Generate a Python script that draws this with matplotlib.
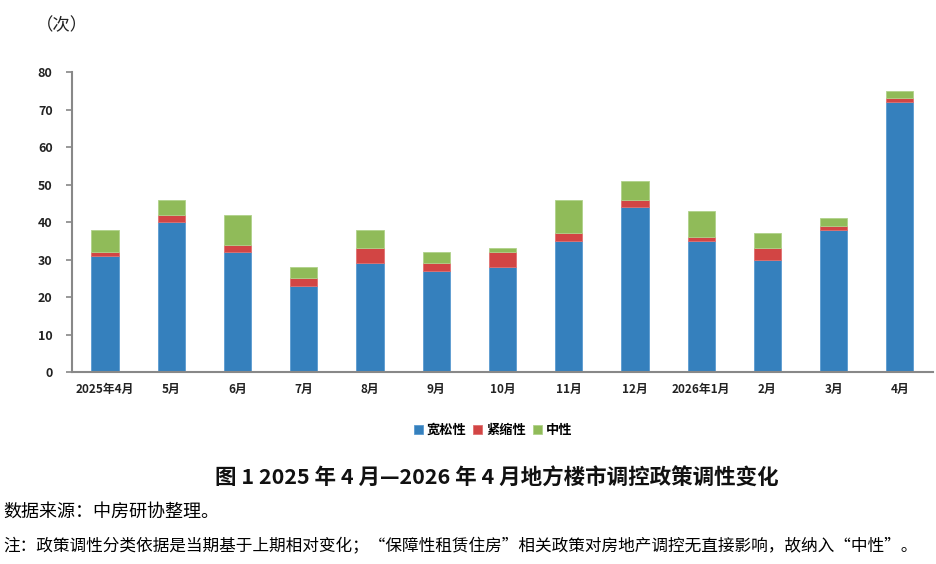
import matplotlib.pyplot as plt
import numpy as np

plt.rcParams['font.family'] = ['Noto Sans CJK SC', 'DejaVu Sans']

# ===== Daten =====
months = ['2025年4月', '5月', '6月', '7月', '8月', '9月', '10月', '11月', '12月',
          '2026年1月', '2月', '3月', '4月']
loose = [31, 40, 32, 23, 29, 27, 28, 35, 44, 35, 30, 38, 72]     # 宽松性
tight = [1, 2, 2, 2, 4, 2, 4, 2, 2, 1, 3, 1, 1]                 # 紧缩性
neutral = [6, 4, 8, 3, 5, 3, 1, 9, 5, 7, 4, 2, 2]               # 中性
yticks = [0, 10, 20, 30, 40, 50, 60, 70, 80]

c_blue, c_red, c_green = '#3580BD', '#D24544', '#90BB59'

fig = plt.figure(figsize=(9.37, 5.64), dpi=100)
ax = fig.add_axes([0.0768, 0.3404, 0.9189, 0.5319])

x = np.arange(len(months))
w = 0.41
loose_a = np.array(loose)
tight_a = np.array(tight)
ax.bar(x, loose, w, color=c_blue, edgecolor='#5a9bd0', linewidth=0.6, label='宽松性')
ax.bar(x, tight, w, bottom=loose_a, color=c_red, edgecolor='#e07070', linewidth=0.6, label='紧缩性')
ax.bar(x, neutral, w, bottom=loose_a + tight_a, color=c_green, edgecolor='#b0d28a',
       linewidth=0.6, label='中性')

# ===== Achsen =====
ax.set_xlim(-0.5, len(months) - 0.5)
ax.set_ylim(0, 80)
ax.set_yticks(yticks)
ax.set_yticklabels([str(v) for v in yticks], fontsize=9, fontweight='bold', color='#222222')
ax.set_xticks(x)
ax.set_xticklabels(months, fontsize=8.5, fontweight='bold', color='#222222')
ax.tick_params(axis='x', length=0, pad=8)
ax.tick_params(axis='y', length=4, color='#888888', width=1.2, pad=10)
for s in ['top', 'right']:
    ax.spines[s].set_visible(False)
for s in ['left', 'bottom']:
    ax.spines[s].set_color('#888888')
    ax.spines[s].set_linewidth(1.5)

ax.legend(loc='upper center', bbox_to_anchor=(0.489, -0.13), ncol=3, frameon=False,
          handlelength=0.7, handleheight=0.7, handletextpad=0.3,
          columnspacing=0.5, prop={'weight': 'bold', 'size': 9.5})

# ===== Texte =====
fig.text(0.038, 0.955, '（次）', fontsize=12.5, va='center', ha='left', color='#222222')
fig.text(0.53, 0.152, '图 1 2025 年 4 月—2026 年 4 月地方楼市调控政策调性变化',
         fontsize=15.5, fontweight='bold', ha='center', va='center', color='#111111')
fig.text(0.004, 0.092, '数据来源：中房研协整理。', fontsize=13, ha='left', va='center')
fig.text(0.004, 0.030, '注：政策调性分类依据是当期基于上期相对变化；“保障性租赁住房”相关政策对房地产调控无直接影响，故纳入“中性”。',
         fontsize=12, ha='left', va='center')

plt.savefig('out.png', dpi=100)
